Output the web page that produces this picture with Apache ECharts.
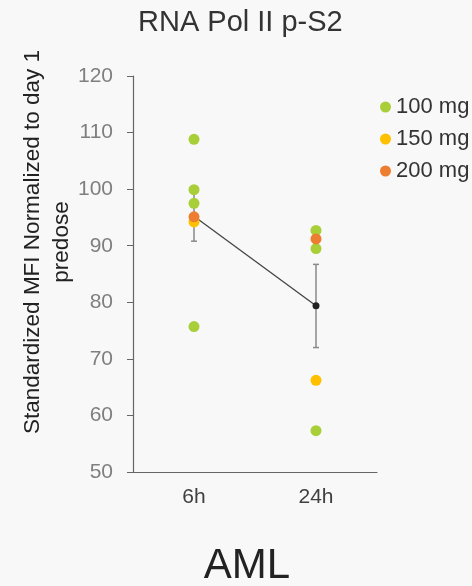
<!DOCTYPE html>
<html>
<head>
<meta charset="utf-8">
<script src="https://cdn.jsdelivr.net/npm/echarts@6/dist/echarts.min.js"></script>
<style>
html,body{margin:0;padding:0;background:#f8f8f8;}
#main{width:472px;height:586px;}
</style>
</head>
<body>
<div id="main"></div>
<script>
// ---- data ----
var categories = ['6h', '24h'];
var yTicks = [50, 60, 70, 80, 90, 100, 110, 120];
var dose100_6h = [108.8, 99.9, 97.5, 75.7];
var dose100_24h = [92.7, 89.5, 57.3];
var dose150_6h = [94.2];
var dose150_24h = [66.2];
var dose200_6h = [95.1];
var dose200_24h = [91.2];
var meanValues = [95.2, 79.4];
var errLow = [90.8, 72.0];
var errHigh = [99.6, 86.7];
var legendNames = ['100 mg', '150 mg', '200 mg'];

function pts(cat, arr) { return arr.map(function (v) { return [cat, v]; }); }

var FONT = '"Liberation Sans", Arial, sans-serif';
var chart = echarts.init(document.getElementById('main'), null, {renderer: 'canvas'});

var errData = categories.map(function (c, i) { return [i, errLow[i], errHigh[i]]; });

var option = {
  backgroundColor: '#f8f8f8',
  animation: false,
  textStyle: {fontFamily: FONT},
  title: {
    text: 'RNA Pol II p-S2',
    left: 133, top: 3,
    textStyle: {fontSize: 29, fontWeight: 'normal', color: '#333', fontFamily: FONT}
  },
  legend: {
    data: legendNames,
    orient: 'vertical',
    left: 375, top: 91,
    icon: 'circle',
    itemWidth: 11, itemHeight: 11,
    itemGap: 10,
    itemTextGap: 7,
    textStyle: {fontSize: 22, color: '#333', fontFamily: FONT}
  },
  grid: {left: 133, right: 95, top: 76, bottom: 114, containLabel: false},
  xAxis: {
    type: 'category',
    data: categories,
    boundaryGap: true,
    axisLine: {lineStyle: {color: '#666', width: 1.2}},
    axisTick: {show: false},
    axisLabel: {fontSize: 21, color: '#404040', margin: 15, fontFamily: FONT}
  },
  yAxis: {
    type: 'value',
    min: yTicks[0], max: yTicks[yTicks.length - 1], interval: 10,
    axisLine: {show: true, lineStyle: {color: '#666', width: 1.2}},
    axisTick: {show: true, length: 6, lineStyle: {color: '#666'}},
    splitLine: {show: false},
    axisLabel: {fontSize: 21, color: '#7f7f7f', margin: 20, fontFamily: FONT}
  },
  graphic: [
    {
      type: 'text',
      x: 47, y: 242,
      rotation: Math.PI / 2,
      style: {
        text: 'Standardized MFI Normalized to day 1\npredose',
        fontSize: 22.5, fontFamily: FONT, fill: '#222',
        align: 'center', verticalAlign: 'middle', lineHeight: 29
      }
    },
    {
      type: 'text',
      x: 247, y: 545,
      style: {
        text: 'AML',
        fontSize: 42, fontFamily: FONT, fill: '#222',
        align: 'center', verticalAlign: 'top'
      }
    }
  ],
  series: [
    {
      type: 'custom',
      name: 'err',
      z: 1,
      data: errData,
      renderItem: function (params, api) {
        var x = api.value(0);
        var lo = api.coord([x, api.value(1)]);
        var hi = api.coord([x, api.value(2)]);
        var w = 3;
        var st = {stroke: '#8a8a8a', lineWidth: 1.5};
        return {
          type: 'group',
          children: [
            {type: 'line', shape: {x1: lo[0], y1: lo[1], x2: hi[0], y2: hi[1]}, style: st},
            {type: 'line', shape: {x1: lo[0] - w, y1: lo[1], x2: lo[0] + w, y2: lo[1]}, style: st},
            {type: 'line', shape: {x1: hi[0] - w, y1: hi[1], x2: hi[0] + w, y2: hi[1]}, style: st}
          ]
        };
      }
    },
    {
      type: 'line',
      name: 'mean',
      z: 2,
      data: meanValues,
      symbol: 'circle', symbolSize: 7,
      itemStyle: {color: '#222'},
      lineStyle: {color: '#444', width: 1.3}
    },
    {
      type: 'scatter', name: legendNames[0], z: 3,
      symbolSize: 11,
      itemStyle: {color: '#a9cf38', opacity: 1},
      data: pts('6h', dose100_6h).concat(pts('24h', dose100_24h))
    },
    {
      type: 'scatter', name: legendNames[1], z: 4,
      symbolSize: 11,
      itemStyle: {color: '#ffc000', opacity: 1},
      data: pts('6h', dose150_6h).concat(pts('24h', dose150_24h))
    },
    {
      type: 'scatter', name: legendNames[2], z: 5,
      symbolSize: 11,
      itemStyle: {color: '#ed7d31', opacity: 1},
      data: pts('6h', dose200_6h).concat(pts('24h', dose200_24h))
    }
  ]
};
chart.setOption(option);
</script>
</body>
</html>
